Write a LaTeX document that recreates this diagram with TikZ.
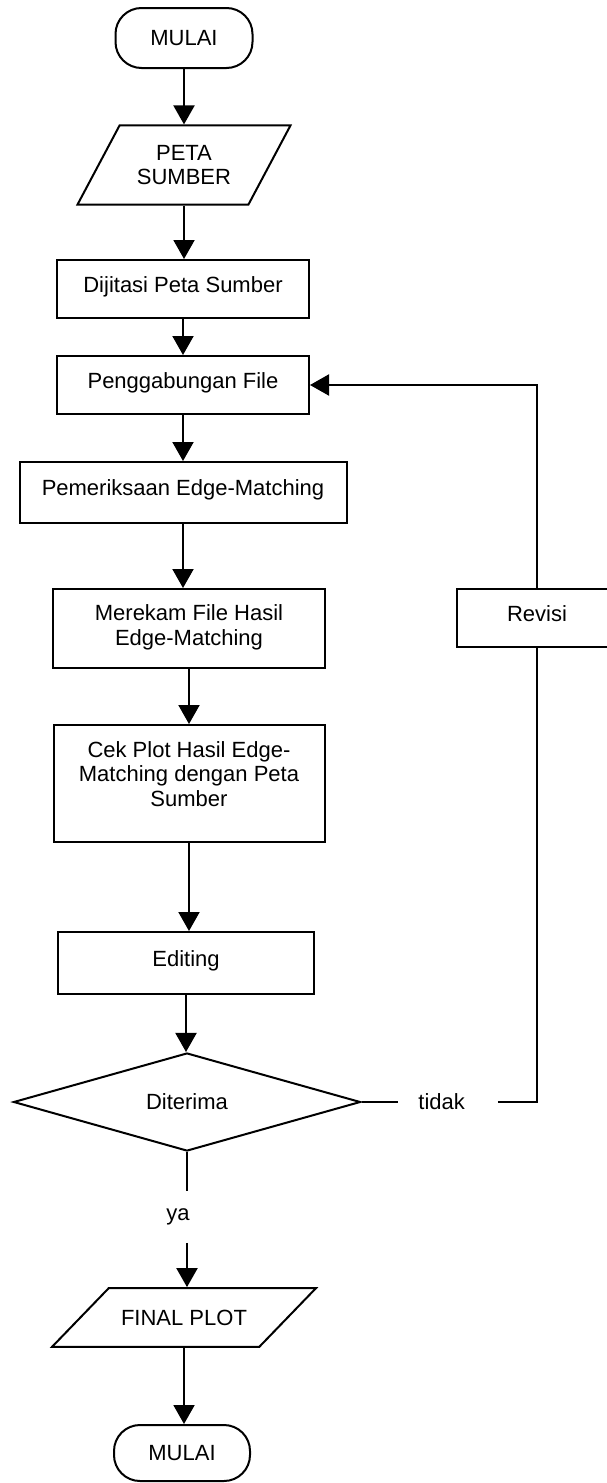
\documentclass[tikz,border=0pt]{standalone}
\usepackage{fontspec}
\setmainfont{Liberation Sans}
\usetikzlibrary{positioning,shapes.geometric,arrows.meta}
\newcommand{\fontbagan}{\fontsize{11}{12.3}\selectfont}
\tikzset{
  garis/.style={draw=black,line width=1pt},
  proses/.style={rectangle,garis,fill=white,inner sep=2pt,align=center,font=\fontbagan},
  naik/.style={text height=8pt,text depth=5pt},
  terminal/.style={proses,rounded corners=13pt},
  dataio/.style={trapezium,garis,fill=white,trapezium stretches body,inner xsep=1pt,align=center,font=\fontbagan},
  keputusan/.style={diamond,garis,fill=white,inner sep=0pt,font=\fontbagan},
  teks/.style={inner sep=0pt,font=\fontbagan},
  panah/.style={garis,-{Triangle[width=10.5pt,length=9.5pt]}},
}

\begin{document}
\begin{tikzpicture}[x=0.5pt,y=-0.5pt]
\fill[white] (0,0) rectangle (606,1483);
\useasboundingbox (0,0) rectangle (606,1483);
% kolom utama
\node[terminal,minimum width=68.5pt,minimum height=30pt] (mulai) at (184,38) {MULAI};
\node[dataio,trapezium left angle=62,trapezium right angle=118,
  minimum width=106.5pt,inner ysep=9.8pt] (peta) at (184,165) {PETA\\SUMBER};
\node[proses,naik,minimum width=126pt,minimum height=29pt] (dijitasi) at (183,289) {Dijitasi Peta Sumber};
\node[proses,naik,minimum width=126pt,minimum height=29pt] (gabung) at (183,385) {Penggabungan File};
\node[proses,naik,minimum width=163.5pt,minimum height=30.5pt] (periksa) at (183,492.5) {Pemeriksaan Edge-Matching};
\node[proses,minimum width=136pt,minimum height=39.5pt] (rekam) at (189,628.5) {Merekam File Hasil\\Edge-Matching\\[-9pt]\mbox{}};
\node[proses,minimum width=135.5pt,minimum height=58.5pt] (cek) at (189,783.5) {Cek Plot Hasil Edge-\\Matching dengan Peta\\Sumber\\[-2.8pt]\mbox{}};
\node[proses,naik,minimum width=128pt,minimum height=31pt] (edit) at (186,963) {Editing};
\node[keputusan,minimum width=173.5pt,minimum height=48.5pt] (terima) at (187,1102) {Diterima};
\node[dataio,trapezium left angle=46,trapezium right angle=134,
  minimum width=132pt,inner ysep=10.8pt] (final) at (184,1317.5) {FINAL PLOT};
\node[terminal,minimum width=68pt,minimum height=28pt] (selesai) at (182,1453) {MULAI};
% cabang revisi
\node[proses,naik,minimum width=80pt,minimum height=29pt] (revisi) at (537,618) {Revisi};
\node[teks,anchor=west,text width=29.5pt,inner xsep=10pt,align=left] (tidak) at (398,1102) {tidak};
\node[teks,minimum height=25.5pt] (ya) at (178,1217) {ya};

\foreach \a/\b in {mulai/peta,peta/dijitasi,dijitasi/gabung,gabung/periksa,periksa/rekam,
  rekam/cek,cek/edit,edit/terima,final/selesai}
  \draw[panah] (\a.south) -- (\a.south |- \b.north);
\draw[garis] (terima.south) -- (terima.south |- ya.north);
\draw[panah] (terima.south |- ya.south) -- (terima.south |- final.north);
\draw[garis] (terima.east) -- (tidak.west);
\draw[garis] (tidak.east) -| (revisi.south);
\draw[panah] (revisi.north) |- (gabung.east);
\end{tikzpicture}
\end{document}
